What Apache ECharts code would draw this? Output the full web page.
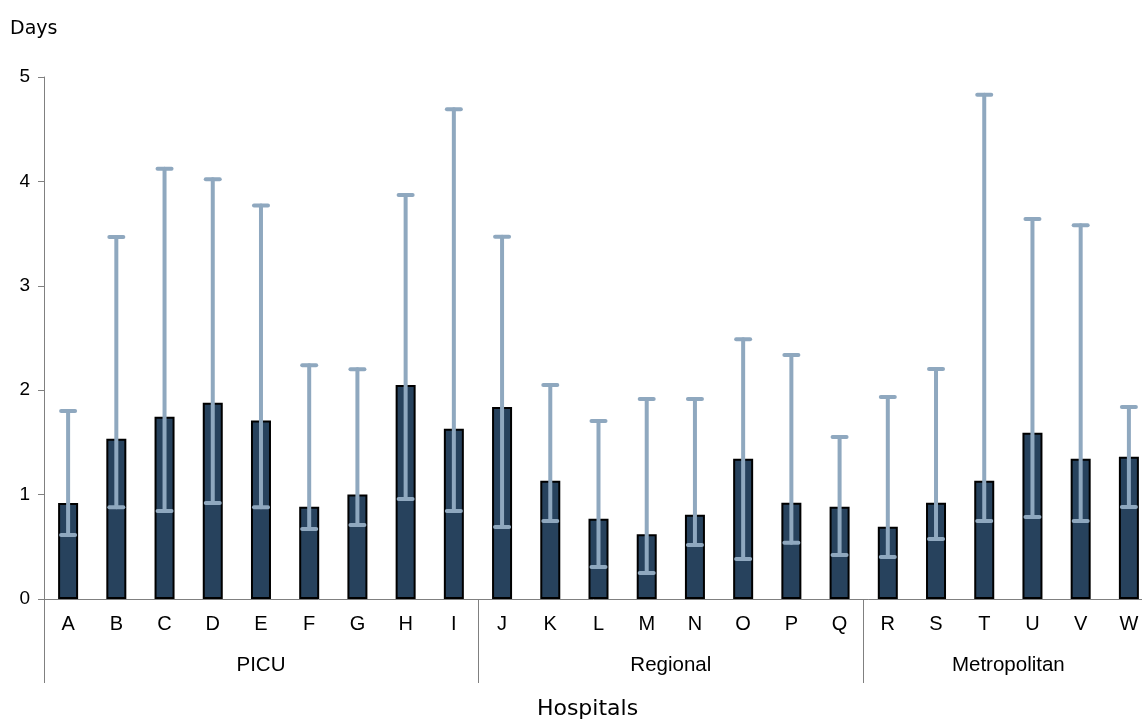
<!DOCTYPE html>
<html><head><meta charset="utf-8">
<script src="https://cdn.jsdelivr.net/npm/echarts@6/dist/echarts.min.js"></script>
<style>html,body{margin:0;padding:0;background:#fff}#c{width:1142px;height:722px}</style>
</head><body><div id="c"></div>
<script>
const categories = ['A','B','C','D','E','F','G','H','I','J','K','L','M','N','O','P','Q','R','S','T','U','V','W'];
const values = [0.92,1.535,1.746,1.88,1.71,0.884,1.0,2.05,1.63,1.84,1.133,0.769,0.62,0.808,1.344,0.922,0.884,0.693,0.922,1.133,1.593,1.344,1.363];
const errLow = [0.613,0.88,0.843,0.92,0.88,0.67,0.709,0.958,0.843,0.69,0.747,0.307,0.249,0.517,0.383,0.539,0.421,0.402,0.575,0.747,0.785,0.747,0.881];
const errHigh = [1.80,3.467,4.12,4.02,3.77,2.24,2.20,3.87,4.69,3.47,2.05,1.705,1.916,1.916,2.487,2.337,1.552,1.935,2.203,4.83,3.64,3.58,1.84];
const groups = ['PICU','Regional','Metropolitan'];
const groupBounds = [0,9,17,23];
const yTicks = [0,1,2,3,4,5];

const groupCenters = groups.map((g,i)=>(groupBounds[i]+groupBounds[i+1])/2);
const errData = categories.map((c,i)=>[i,errLow[i],errHigh[i]]);

const chart = echarts.init(document.getElementById('c'));
chart.setOption({
  animation:false,
  grid:{left:44,top:77,width:1109,height:522,containLabel:false,outerBoundsMode:'none'},
  xAxis:[{
    type:'category',data:categories,position:'bottom',
    axisLine:{lineStyle:{color:'#808080',width:1}},
    axisTick:{show:false},
    axisLabel:{color:'#000',fontFamily:'Liberation Sans, Arial',fontSize:20,margin:15}
  },{
    type:'value',min:0,max:23,position:'bottom',
    axisLine:{show:false},
    splitLine:{show:false},
    axisTick:{show:true,customValues:groupBounds,length:84,lineStyle:{color:'#808080',width:1}},
    axisLabel:{customValues:groupCenters,color:'#000',fontFamily:'Liberation Sans, Arial',fontSize:20.5,margin:56,
      formatter:function(v){const i=groupCenters.indexOf(v);return i>=0?groups[i]:'';}},
    name:'Hospitals',nameLocation:'middle',nameGap:99,
    nameTextStyle:{color:'#000',fontFamily:'DejaVu Sans, Verdana',fontSize:22,padding:[0,22,0,0]}
  }],
  yAxis:{
    type:'value',min:0,max:5,interval:1,
    name:'Days',nameLocation:'end',nameGap:0,
    nameTextStyle:{color:'#000',fontFamily:'DejaVu Sans, Verdana',fontSize:19,align:'left',padding:[0,0,38,-34]},
    axisLine:{show:true,lineStyle:{color:'#808080',width:1}},
    axisTick:{show:true,length:6,lineStyle:{color:'#808080'}},
    splitLine:{show:false},
    axisLabel:{color:'#000',fontFamily:'Liberation Sans, Arial',fontSize:19,margin:14,
      formatter:function(v){return yTicks.indexOf(v)>=0?String(v):'';}}
  },
  series:[{
    type:'bar',data:values,xAxisIndex:0,barWidth:20,
    itemStyle:{color:'#27425d',borderColor:'#000',borderWidth:2}
  },{
    type:'custom',xAxisIndex:0,data:errData,z:10,
    renderItem:function(params,api){
      const x=api.value(0);
      const lo=api.coord([x,api.value(1)]);
      const hi=api.coord([x,api.value(2)]);
      const hw=7;
      const st={stroke:'#8fa8bf',lineWidth:4,lineCap:'round'};
      return {type:'group',children:[
        {type:'line',shape:{x1:hi[0],y1:hi[1],x2:lo[0],y2:lo[1]},style:st},
        {type:'line',shape:{x1:hi[0]-hw,y1:hi[1],x2:hi[0]+hw,y2:hi[1]},style:st},
        {type:'line',shape:{x1:lo[0]-hw,y1:lo[1],x2:lo[0]+hw,y2:lo[1]},style:st}
      ]};
    }
  }]
});
</script></body></html>
